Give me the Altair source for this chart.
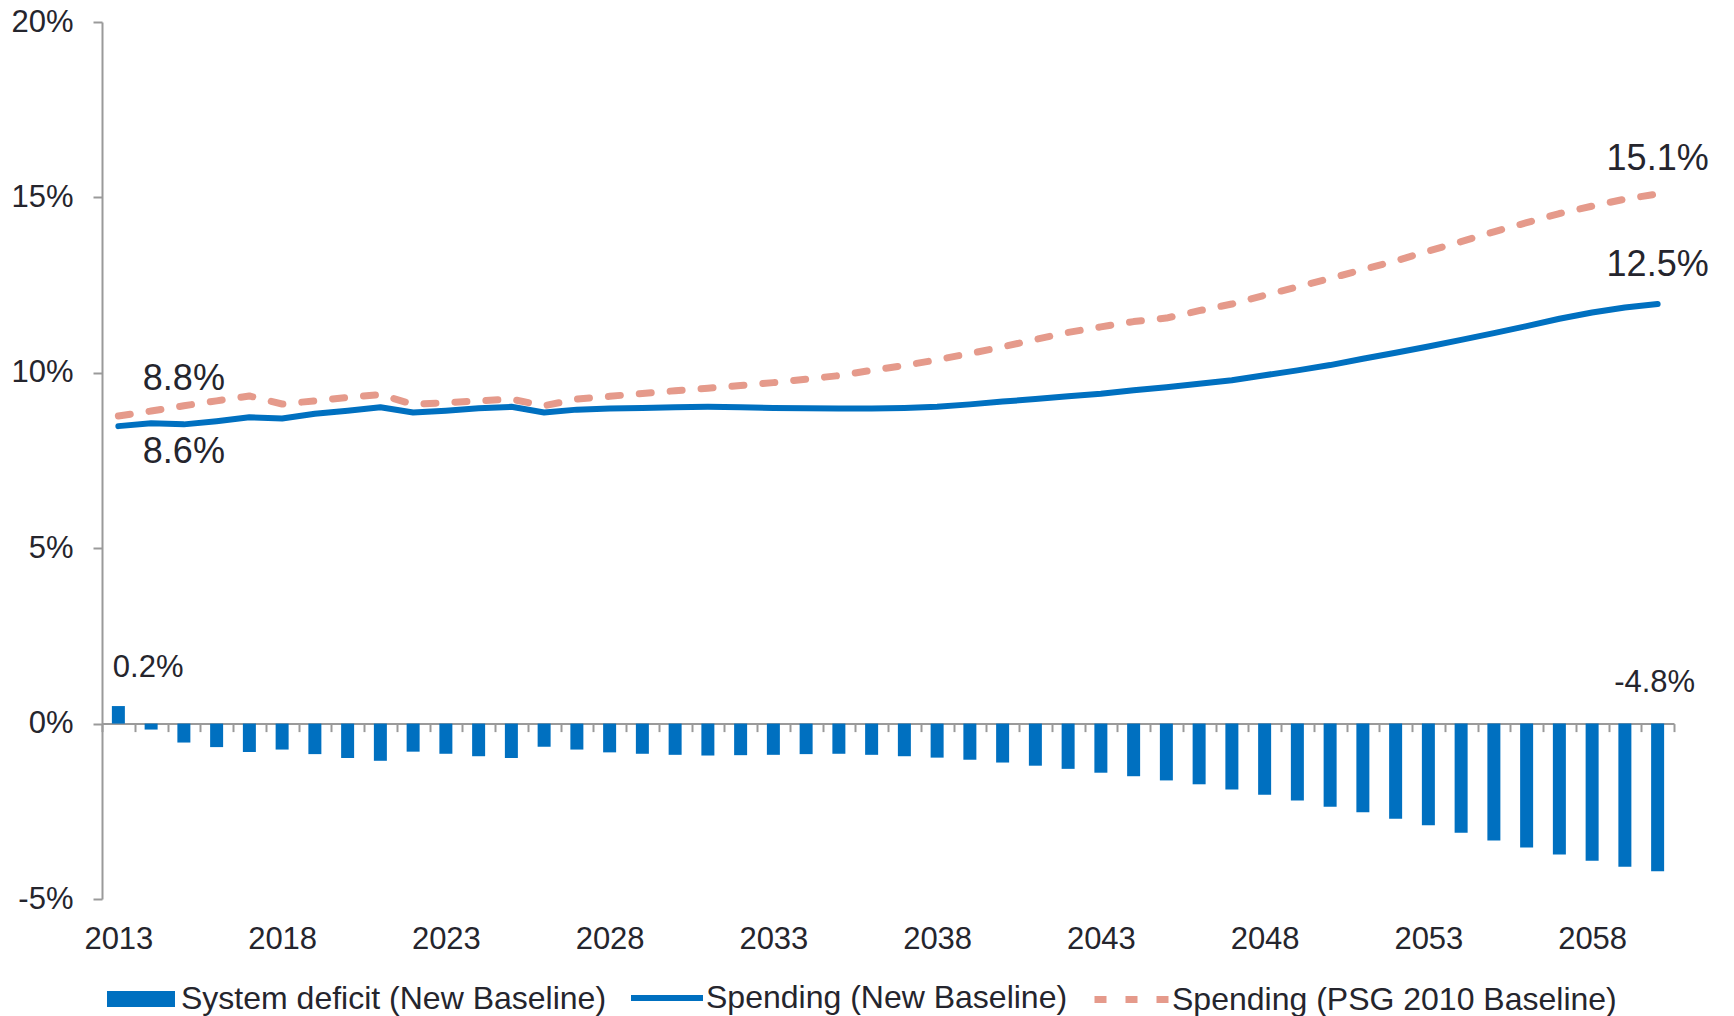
import altair as alt
import pandas as pd

years = [2013, 2014, 2015, 2016, 2017, 2018, 2019, 2020, 2021, 2022,
         2023, 2024, 2025, 2026, 2027, 2028, 2029, 2030, 2031, 2032,
         2033, 2034, 2035, 2036, 2037, 2038, 2039, 2040, 2041, 2042,
         2043, 2044, 2045, 2046, 2047, 2048, 2049, 2050, 2051, 2052,
         2053, 2054, 2055, 2056, 2057, 2058, 2059, 2060]

deficit = [0.50, -0.17, -0.54, -0.67, -0.81, -0.74, -0.87, -0.98, -1.06, -0.80,
           -0.86, -0.93, -0.98, -0.66, -0.74, -0.82, -0.86, -0.89, -0.91, -0.90,
           -0.89, -0.87, -0.86, -0.89, -0.93, -0.97, -1.03, -1.11, -1.20, -1.29,
           -1.40, -1.50, -1.62, -1.73, -1.88, -2.03, -2.19, -2.37, -2.53, -2.71,
           -2.90, -3.11, -3.33, -3.53, -3.73, -3.91, -4.08, -4.21]

spend_new = [8.48, 8.56, 8.53, 8.62, 8.73, 8.70, 8.83, 8.92, 9.02, 8.87,
             8.92, 8.99, 9.03, 8.87, 8.95, 8.98, 9.00, 9.02, 9.03, 9.02,
             9.00, 8.99, 8.98, 8.98, 9.00, 9.03, 9.10, 9.18, 9.25, 9.33,
             9.40, 9.50, 9.59, 9.69, 9.79, 9.93, 10.07, 10.22, 10.40, 10.57,
             10.75, 10.94, 11.13, 11.33, 11.54, 11.72, 11.86, 11.96]

spend_psg = [8.77, 8.91, 9.06, 9.20, 9.34, 9.11, 9.20, 9.30, 9.38, 9.10,
             9.15, 9.20, 9.25, 9.06, 9.25, 9.33, 9.41, 9.49, 9.56, 9.64,
             9.72, 9.82, 9.92, 10.07, 10.21, 10.37, 10.55, 10.74, 10.95, 11.15,
             11.31, 11.46, 11.56, 11.77, 11.96, 12.21, 12.45, 12.69, 12.94, 13.19,
             13.47, 13.74, 14.02, 14.28, 14.54, 14.75, 14.95, 15.10]

series_names = ["System deficit (New Baseline)", "Spending (New Baseline)",
                "Spending (PSG 2010 Baseline)"]

y_ticks = [-5, 0, 5, 10, 15, 20]

big_labels = ["8.8%", "8.6%", "15.1%", "12.5%"]
big_years = [2015, 2015, 2060, 2060]
big_pos = [9.82, 7.74, 16.09, 13.07]

small_labels = ["0.2%", "-4.8%"]
small_years = [2014, 2060]
small_pos = [1.58, 1.15]

BLUE = "#0070C0"
SALMON = "#E59A8B"
TXT = "#25252d"
AX = "#9a9a9a"
FONT = "Liberation Sans"

df_def = pd.DataFrame({"year": years, "value": deficit, "series": series_names[0]})
df_new = pd.DataFrame({"year": years, "value": spend_new, "series": series_names[1]})
df_psg = pd.DataFrame({"year": years, "value": spend_psg, "series": series_names[2]})
df_big = pd.DataFrame({"year": big_years, "value": big_pos, "label": big_labels})
df_small = pd.DataFrame({"year": small_years, "value": small_pos, "label": small_labels})

W, H = 1572, 877
zero_off = -H * 5 / 25

x = alt.X(
    "year:O",
    scale=alt.Scale(domain=years, paddingInner=0, paddingOuter=0),
    title=None,
    axis=alt.Axis(
        orient="bottom", offset=zero_off, domainColor=AX, domainWidth=2,
        tickColor=AX, tickWidth=2, tickSize=8, tickBand="extent",
        labelFontSize=31, labelFont=FONT, labelColor=TXT, labelPadding=193,
        labelAngle=0, labelOverlap=False,
        labelExpr="(datum.value - 2013) % 5 == 0 ? datum.label : ''",
        grid=False, title=None,
    ),
)
y = alt.Y(
    "value:Q",
    scale=alt.Scale(domain=[-5, 20], nice=False),
    title=None,
    axis=alt.Axis(
        values=y_ticks, labelExpr="datum.value + '%'", domainColor=AX,
        domainWidth=2, tickColor=AX, tickWidth=2, tickSize=9,
        labelFontSize=31, labelFont=FONT, labelColor=TXT, labelPadding=20,
        labelFlush=False, labelOverlap=False, grid=False, title=None,
    ),
)

def leg(lx, ly, off, **kw):
    return alt.Legend(
        orient="none", legendX=lx, legendY=ly, title=None,
        labelFontSize=32, labelFont=FONT, labelColor=TXT, labelOffset=off,
        padding=0, labelLimit=0, **kw,
    )

bars = alt.Chart(df_def).mark_bar(size=13, color=BLUE).encode(
    x=x, y=y,
    color=alt.Color("series:N", scale=alt.Scale(domain=[series_names[0]], range=[BLUE]),
                    legend=leg(5, 943, 6, symbolType="M-1,-0.235H1V0.235H-1Z",
                               symbolSize=4624, symbolStrokeWidth=0)),
)

line_new = alt.Chart(df_new).mark_line(strokeWidth=6, strokeCap="round",
                                       strokeJoin="round").encode(
    x=x, y=y,
    color=alt.Color("series:N", scale=alt.Scale(domain=[series_names[1]], range=[BLUE]),
                    legend=leg(526, 937, 0, symbolType="stroke", symbolSize=5184,
                               symbolStrokeWidth=6)),
)

line_psg = alt.Chart(df_psg).mark_line(strokeWidth=7, strokeCap="round",
                                       strokeJoin="round", strokeDash=[12, 19]).encode(
    x=x, y=y,
    color=alt.Color("series:N", scale=alt.Scale(domain=[series_names[2]], range=[SALMON]),
                    legend=leg(989, 937, 0, symbolType="stroke", symbolSize=5476,
                               symbolStrokeWidth=7, symbolDash=[12, 19])),
)

ann_big = alt.Chart(df_big).mark_text(fontSize=36, font=FONT, color=TXT,
                                      align="center", baseline="middle").encode(
    x=x, y=y, text="label:N")

ann_small = alt.Chart(df_small).mark_text(fontSize=31, font=FONT, color=TXT,
                                          align="center", baseline="middle", dx=-3).encode(
    x=x, y=y, text="label:N")

chart = alt.layer(bars, line_new, line_psg, ann_big, ann_small).resolve_scale(
    color="independent"
).properties(
    width=W, height=H,
    autosize=alt.AutoSizeParams(type="none"),
    padding={"left": 102, "top": 22, "right": 1734 - 102 - W, "bottom": 1016 - 22 - H},
    background="white",
).configure_view(stroke=None)

chart.save("out.html", embed_options={"renderer": "svg", "actions": False})
